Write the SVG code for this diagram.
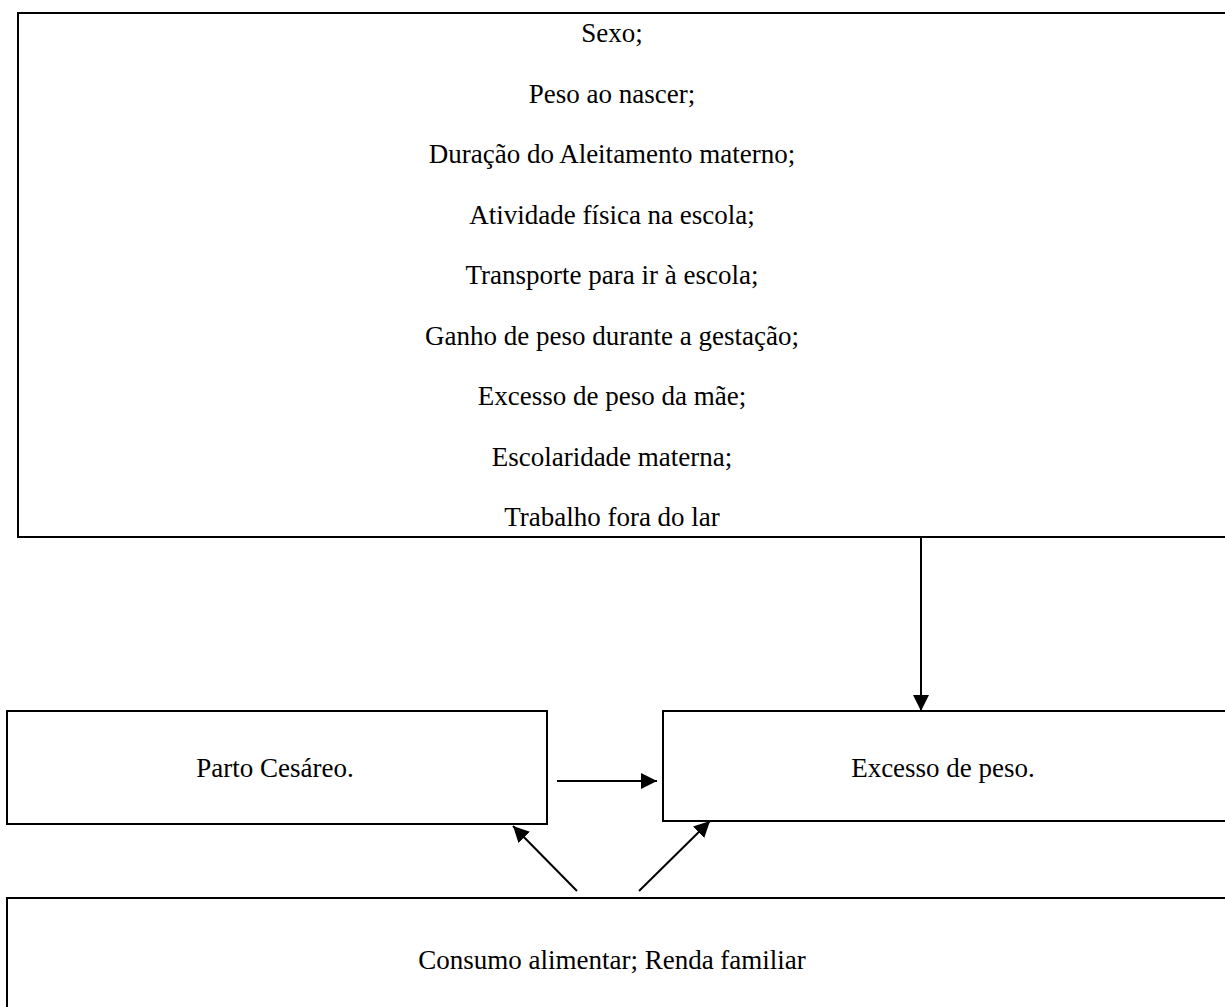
<svg xmlns="http://www.w3.org/2000/svg" width="1225" height="1007" viewBox="0 0 1225 1007">
<style>
.box{fill:#fff;stroke:#000;stroke-width:2}
.t{font-family:"Liberation Serif","Times New Roman",serif;font-size:27px;fill:#000;text-anchor:middle}
.c{stroke:#000;stroke-width:2;fill:none}
</style>
<defs>
<marker id="a" viewBox="0 0 16 16" refX="16" refY="8" markerWidth="16" markerHeight="16" markerUnits="userSpaceOnUse" orient="auto"><path d="M0,0 L16,8 L0,16 z" fill="#000"/></marker>
</defs>
<rect width="1225" height="1007" fill="#fff"/>
<g id="fatores">
<rect class="box" x="18" y="13" width="1220" height="524"/>
<text class="t" x="612" y="42">Sexo;</text>
<text class="t" x="612" y="102.5">Peso ao nascer;</text>
<text class="t" x="612" y="163">Duração do Aleitamento materno;</text>
<text class="t" x="612" y="223.5">Atividade física na escola;</text>
<text class="t" x="612" y="284">Transporte para ir à escola;</text>
<text class="t" x="612" y="344.5">Ganho de peso durante a gestação;</text>
<text class="t" x="612" y="405">Excesso de peso da mãe;</text>
<text class="t" x="612" y="465.5">Escolaridade materna;</text>
<text class="t" x="612" y="526">Trabalho fora do lar</text>
</g>
<g id="parto">
<rect class="box" x="7" y="711" width="540" height="113"/>
<text class="t" x="275" y="777">Parto Cesáreo.</text>
</g>
<g id="excesso">
<rect class="box" x="663" y="711" width="580" height="110"/>
<text class="t" x="943" y="777">Excesso de peso.</text>
</g>
<g id="consumo">
<rect class="box" x="7" y="898" width="1240" height="130"/>
<text class="t" x="612" y="969">Consumo alimentar; Renda familiar</text>
</g>
<g id="connectors">
<line class="c" x1="921" y1="537" x2="921" y2="711" marker-end="url(#a)"/>
<line class="c" x1="557" y1="781" x2="657" y2="781" marker-end="url(#a)"/>
<line class="c" x1="577" y1="891" x2="513" y2="826" marker-end="url(#a)"/>
<line class="c" x1="639" y1="891" x2="710" y2="821" marker-end="url(#a)"/>
</g>
</svg>
